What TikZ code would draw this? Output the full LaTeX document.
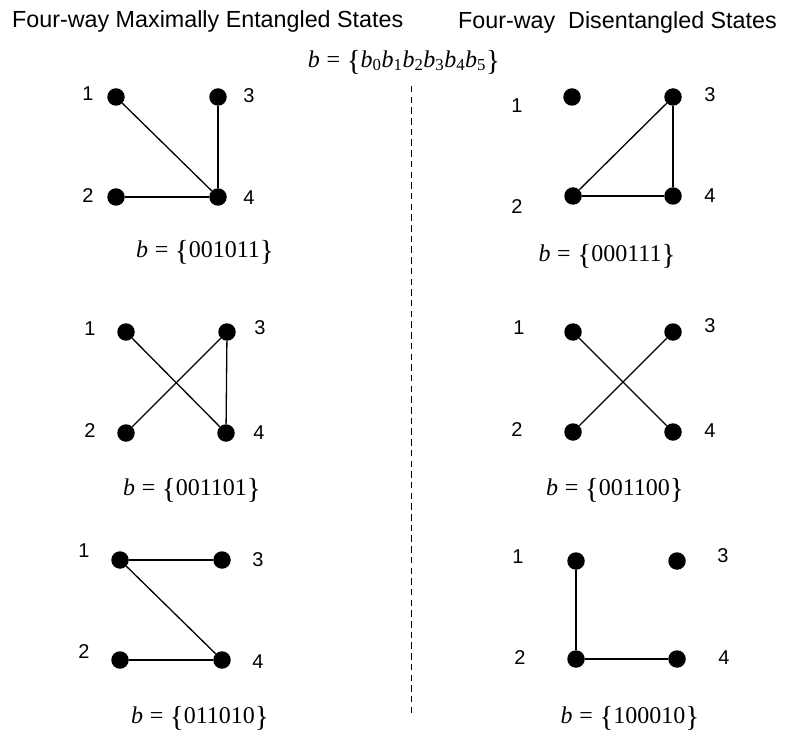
\documentclass[tikz,border=0pt]{standalone}
\usepackage{fontspec}
\setmainfont{Liberation Serif}
\setsansfont{Liberation Sans}
\newcommand{\brL}{\raisebox{-3pt}{\fontsize{29}{29}\selectfont\{}}
\newcommand{\brR}{\raisebox{-3pt}{\fontsize{29}{29}\selectfont\}}}
\newcommand{\bv}[1]{\textit{b}\;=\;\brL#1\brR}
\tikzset{
  dot/.style={circle, fill=black, inner sep=0pt, minimum size=17.5pt},
  lab/.style={font=\sffamily\fontsize{20}{22}\selectfont, inner sep=0pt},
  ttl/.style={font=\sffamily\fontsize{23.3}{26}\selectfont, inner sep=0pt, anchor=base west},
  frm/.style={font=\fontsize{24}{28}\selectfont, inner sep=0pt},
  edge/.style={line width=1.3pt},
  sep/.style={line width=1pt, dash pattern=on 6.5pt off 4.2pt}
}
\begin{document}
\begin{tikzpicture}[x=1pt,y=-1pt]
\useasboundingbox (0,0) rectangle (785,738);
\fill[white] (0,0) rectangle (785,738);
% titles
\node[ttl] (t1) at (12,28) {Four-way Maximally Entangled States};
\node[ttl] (t2) at (458,29) {Four-way\ \ Disentangled States};
\node[frm] (fb) at (404,62) {\textit{b}\;=\;\brL\textit{b}\textsubscript{0}\textit{b}\textsubscript{1}\textit{b}\textsubscript{2}\textit{b}\textsubscript{3}\textit{b}\textsubscript{4}\textit{b}\textsubscript{5}\brR};
% separator
\coordinate (s1) at (411,86);
\coordinate (s2) at (411,714);
\draw[sep] (s1) -- (s2);

% Panel A: 001011
\node[dot] (a1) at (116,97) {};
\node[dot] (a3) at (218,97) {};
\node[dot] (a2) at (116,197) {};
\node[dot] (a4) at (218,197) {};
\node[lab] (la1) at (88,94) {1};
\node[lab] (la3) at (249,96) {3};
\node[lab] (la2) at (88,196) {2};
\node[lab] (la4) at (249,198) {4};
\draw[edge] (a1) -- (a4);
\draw[edge] (a3) -- (a4);
\draw[edge] (a2) -- (a4);
\node[frm] (fa) at (205,252) {\bv{001011}};

% Panel B: 000111
\node[dot] (b1) at (572,97) {};
\node[dot] (b3) at (673,97) {};
\node[dot] (b2) at (573,196) {};
\node[dot] (b4) at (673,196) {};
\node[lab] (lb1) at (517,106) {1};
\node[lab] (lb3) at (710,95) {3};
\node[lab] (lb2) at (517,207) {2};
\node[lab] (lb4) at (710,196) {4};
\draw[edge] (b2) -- (b3);
\draw[edge] (b3) -- (b4);
\draw[edge] (b2) -- (b4);
\node[frm] (fbb) at (607,256) {\bv{000111}};

% Panel C: 001101
\node[dot] (c1) at (126,332) {};
\node[dot] (c3) at (227,332) {};
\node[dot] (c2) at (126,433) {};
\node[dot] (c4) at (226,433) {};
\node[lab] (lc1) at (90,329) {1};
\node[lab] (lc3) at (260,328) {3};
\node[lab] (lc2) at (90,431) {2};
\node[lab] (lc4) at (259,433) {4};
\draw[edge] (c1) -- (c4);
\draw[edge] (c2) -- (c3);
\draw[edge] (c3) -- (c4);
\node[frm] (fc) at (192,490) {\bv{001101}};

% Panel D: 001100
\node[dot] (d1) at (573,332) {};
\node[dot] (d3) at (673,332) {};
\node[dot] (d2) at (573,432) {};
\node[dot] (d4) at (673,432) {};
\node[lab] (ld1) at (519,328) {1};
\node[lab] (ld3) at (710,326) {3};
\node[lab] (ld2) at (517,430) {2};
\node[lab] (ld4) at (710,431) {4};
\draw[edge] (d1) -- (d4);
\draw[edge] (d2) -- (d3);
\node[frm] (fd) at (615,490) {\bv{001100}};

% Panel E: 011010
\node[dot] (e1) at (120,560) {};
\node[dot] (e3) at (222,560) {};
\node[dot] (e2) at (120,660) {};
\node[dot] (e4) at (222,660) {};
\node[lab] (le1) at (84,551) {1};
\node[lab] (le3) at (258,560) {3};
\node[lab] (le2) at (84,652) {2};
\node[lab] (le4) at (258,662) {4};
\draw[edge] (e1) -- (e3);
\draw[edge] (e1) -- (e4);
\draw[edge] (e2) -- (e4);
\node[frm] (fe) at (200,718) {\bv{011010}};

% Panel F: 100010
\node[dot] (f1) at (576,561) {};
\node[dot] (f3) at (677,561) {};
\node[dot] (f2) at (576,659) {};
\node[dot] (f4) at (677,659) {};
\node[lab] (lf1) at (518,557) {1};
\node[lab] (lf3) at (723,556) {3};
\node[lab] (lf2) at (520,658) {2};
\node[lab] (lf4) at (724,658) {4};
\draw[edge] (f1) -- (f2);
\draw[edge] (f2) -- (f4);
\node[frm] (ff) at (630,718) {\bv{100010}};
\end{tikzpicture}
\end{document}
